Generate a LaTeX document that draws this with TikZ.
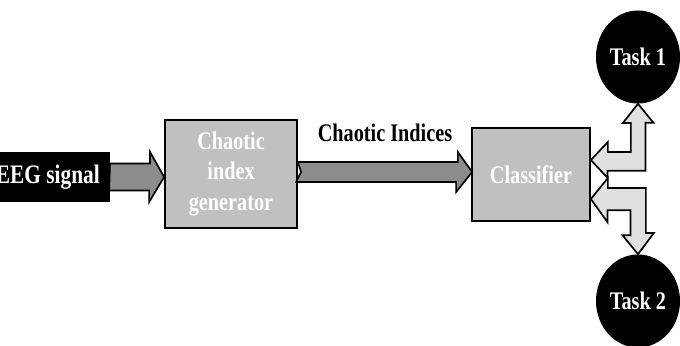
\documentclass[tikz,border=0pt]{standalone}
\usepackage{fontspec}
\setmainfont[FakeStretch=0.8]{Liberation Serif}
\usetikzlibrary{shapes.geometric,calc}
\definecolor{grisbloc}{HTML}{C0C0C0}
\definecolor{grisfleche}{HTML}{8C8C8C}
\definecolor{grisclair}{HTML}{E0E0E0}
\tikzset{
  texte/.style={font=\fontsize{18}{22}\selectfont\bfseries},
  bloc/.style={texte, draw=black, line width=1.2pt, fill=grisbloc, text=white, align=center},
  tache/.style={texte, ellipse, fill=black, text=white, inner sep=0pt, minimum width=2.1cm, minimum height=2.325cm},
  fleche/.style={draw=black, line width=1.2pt, fill=grisfleche, line join=miter},
  flechecl/.style={fleche, fill=grisclair}
}
\begin{document}
\begin{tikzpicture}[x=0.025cm,y=-0.025cm]
	\useasboundingbox (0,0) rectangle (680,345);
	\clip (0,0) rectangle (680,345);
	% les blocs
	\node[font=\fontsize{19}{22}\selectfont\bfseries, fill=black, text=white, anchor=east, minimum height=1.25cm, inner xsep=7pt] (eeg) at (110,177) {EEG signal};
	\node[bloc, minimum width=3.3cm, minimum height=2.7cm] (gen) at (231,174) {Chaotic\\index\\generator};
	\node[bloc, minimum width=2.95cm, minimum height=2.325cm] (cls) at (531,174.5) {Classifier};
	\node[tache] (t1) at (638,57) {Task 1};
	\node[tache] (t2) at (638,301) {Task 2};
	% les fleches
	\draw[fleche] ($(eeg.east)+(0,-13.5)$) -- ++(40,0) -- ++(0,-11.5) -- ($(gen.west)+(0,3)$)
		-- ++(-15,25) -- ++(0,-11.5) -- ++(-40,0) -- cycle;
	\draw[fleche] ($(gen.east)+(0,-12)$) -- ++(160,0) -- ++(0,-10) -- ($(cls.west)+(1,-2.5)$)
		-- ++(-16,20) -- ++(0,-10) -- ++(-160,0) -- ++(5,-10) -- cycle;
	\node[texte] (idx) at (385,133) {Chaotic Indices};
	% les fleches doubles vers les taches
	\draw[flechecl] ($(cls.east)+(0,-14.5)$) -- ++(17,-18) -- ++(0,10) -- ++(23,0) -- ++(0,-29)
		-- ++(-8,0) -- (t1.south) -- ++(15.5,19) -- ++(-8,0) -- ++(0,48) -- ++(-38,0) -- ++(0,7) -- cycle;
	\draw[flechecl] ($(cls.east)+(0,24.5)$) -- ++(17,-21) -- ++(0,10) -- ++(38,0) -- ++(0,45)
		-- ++(8,0) -- (t2.north) -- ++(-15.5,-19) -- ++(8,0) -- ++(0,-25) -- ++(-23,0) -- ++(0,12) -- cycle;
\end{tikzpicture}
\end{document}
